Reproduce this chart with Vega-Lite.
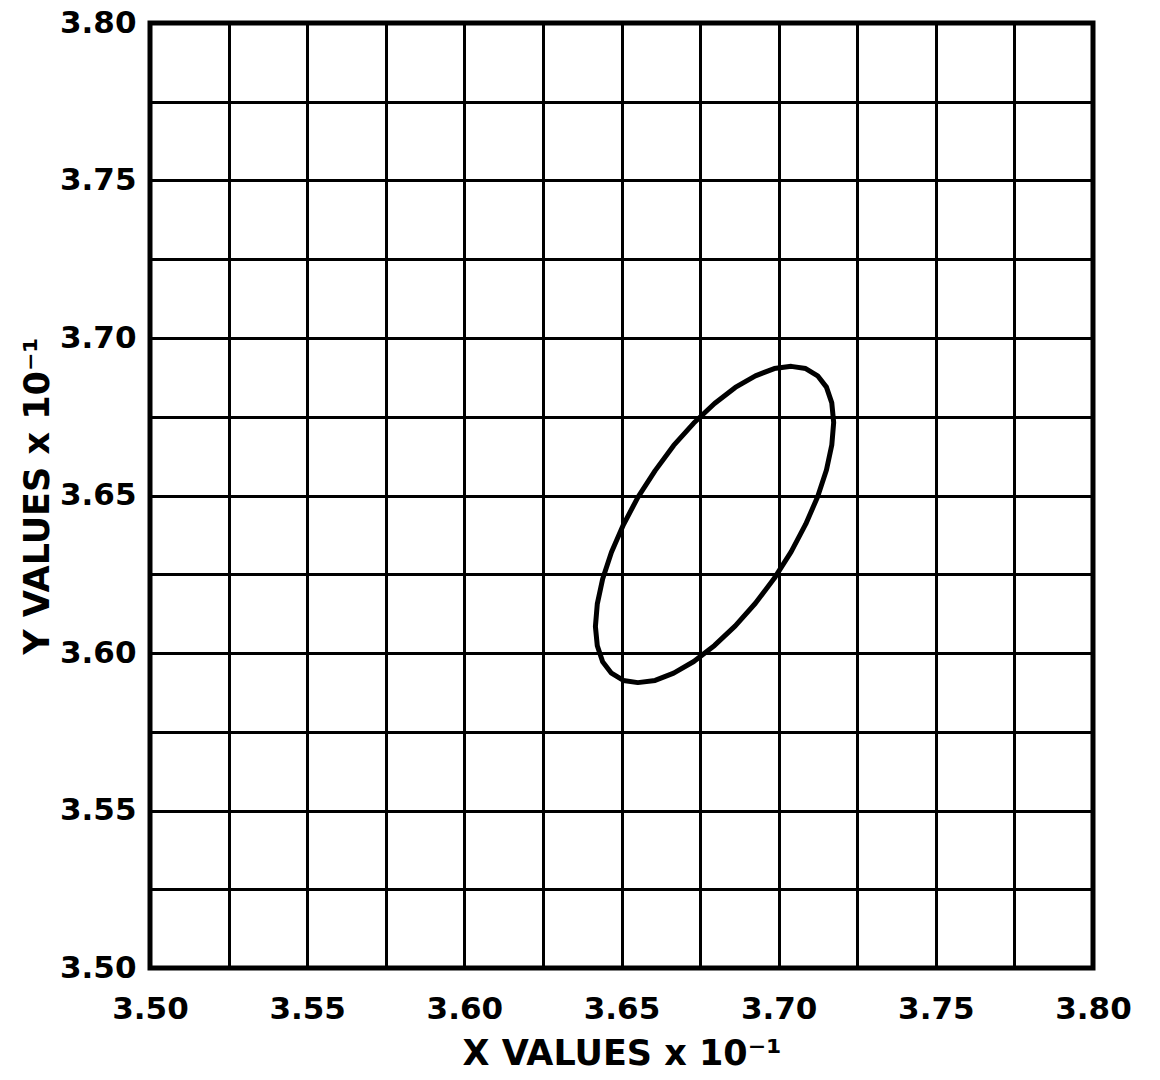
{
  "$schema": "https://vega.github.io/schema/vega-lite/v6.json",
  "autosize": "none",
  "width": 943,
  "height": 945,
  "padding": {"left": 150, "top": 23, "right": 67, "bottom": 112},
  "background": "white",
  "config": {
    "view": {"stroke": "black", "strokeWidth": 5},
    "axis": {
      "labelFont": "DejaVu Sans",
      "labelFontWeight": "bold",
      "labelFontSize": 31,
      "labelColor": "black",
      "titleFont": "DejaVu Sans",
      "titleFontWeight": "bold",
      "titleFontSize": 35,
      "titleColor": "black",
      "grid": true,
      "gridColor": "black",
      "gridWidth": 3,
      "gridOpacity": 1,
      "domain": false,
      "ticks": false
    }
  },
  "data": {
    "values": [
      {"i": 0, "x": 3.7175, "y": 3.6732},
      {"i": 1, "x": 3.7169, "y": 3.6794},
      {"i": 2, "x": 3.7152, "y": 3.6844},
      {"i": 3, "x": 3.7124, "y": 3.6880},
      {"i": 4, "x": 3.7086, "y": 3.6903},
      {"i": 5, "x": 3.7040, "y": 3.6910},
      {"i": 6, "x": 3.6986, "y": 3.6903},
      {"i": 7, "x": 3.6926, "y": 3.6880},
      {"i": 8, "x": 3.6862, "y": 3.6843},
      {"i": 9, "x": 3.6796, "y": 3.6792},
      {"i": 10, "x": 3.6730, "y": 3.6730},
      {"i": 11, "x": 3.6666, "y": 3.6659},
      {"i": 12, "x": 3.6607, "y": 3.6579},
      {"i": 13, "x": 3.6552, "y": 3.6494},
      {"i": 14, "x": 3.6506, "y": 3.6407},
      {"i": 15, "x": 3.6468, "y": 3.6320},
      {"i": 16, "x": 3.6440, "y": 3.6235},
      {"i": 17, "x": 3.6423, "y": 3.6156},
      {"i": 18, "x": 3.6417, "y": 3.6084},
      {"i": 19, "x": 3.6423, "y": 3.6023},
      {"i": 20, "x": 3.6440, "y": 3.5972},
      {"i": 21, "x": 3.6468, "y": 3.5936},
      {"i": 22, "x": 3.6506, "y": 3.5913},
      {"i": 23, "x": 3.6552, "y": 3.5906},
      {"i": 24, "x": 3.6607, "y": 3.5913},
      {"i": 25, "x": 3.6666, "y": 3.5936},
      {"i": 26, "x": 3.6730, "y": 3.5973},
      {"i": 27, "x": 3.6796, "y": 3.6024},
      {"i": 28, "x": 3.6862, "y": 3.6086},
      {"i": 29, "x": 3.6926, "y": 3.6158},
      {"i": 30, "x": 3.6986, "y": 3.6237},
      {"i": 31, "x": 3.7040, "y": 3.6322},
      {"i": 32, "x": 3.7086, "y": 3.6409},
      {"i": 33, "x": 3.7124, "y": 3.6496},
      {"i": 34, "x": 3.7152, "y": 3.6581},
      {"i": 35, "x": 3.7169, "y": 3.6660},
      {"i": 36, "x": 3.7175, "y": 3.6732}
    ]
  },
  "mark": {"type": "line", "color": "black", "strokeWidth": 5, "strokeCap": "round", "strokeJoin": "round", "clip": true},
  "encoding": {
    "order": {"field": "i", "type": "quantitative"},
    "x": {
      "field": "x",
      "type": "quantitative",
      "scale": {"domain": [3.5, 3.8], "nice": false, "zero": false},
      "axis": {
        "title": "X VALUES x 10⁻¹",
        "values": [3.5, 3.525, 3.55, 3.575, 3.6, 3.625, 3.65, 3.675, 3.7, 3.725, 3.75, 3.775, 3.8],
        "labelExpr": "round(datum.value * 40) % 2 == 0 ? format(datum.value, '.2f') : ''",
        "labelPadding": 26,
        "titlePadding": 12,
        "labelFlush": false
      }
    },
    "y": {
      "field": "y",
      "type": "quantitative",
      "scale": {"domain": [3.5, 3.8], "nice": false, "zero": false},
      "axis": {
        "title": "Y VALUES x 10⁻¹",
        "values": [3.5, 3.525, 3.55, 3.575, 3.6, 3.625, 3.65, 3.675, 3.7, 3.725, 3.75, 3.775, 3.8],
        "labelExpr": "round(datum.value * 40) % 2 == 0 ? format(datum.value, '.2f') : ''",
        "labelPadding": 14,
        "titlePadding": 4,
        "labelFlush": false
      }
    }
  }
}
